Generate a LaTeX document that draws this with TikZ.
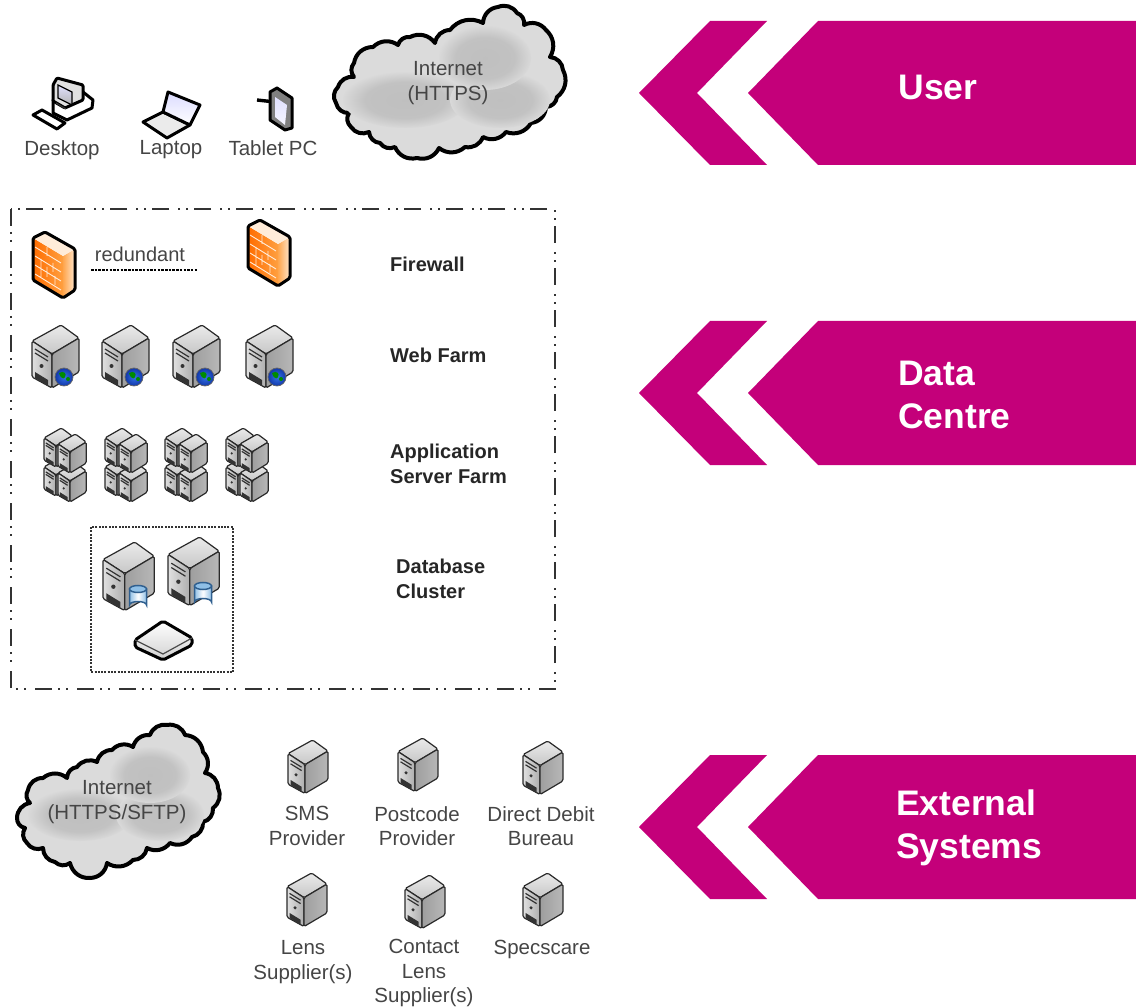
\documentclass[tikz,border=0pt]{standalone}
\usepackage{fontspec}
\setmainfont{Liberation Sans}
\definecolor{mag}{HTML}{C4007A}
\definecolor{txt}{HTML}{454545}
\definecolor{edge}{HTML}{2A2A2A}
\definecolor{canedge}{HTML}{2F5F8F}
\definecolor{canfill}{HTML}{8FBFE6}
\definecolor{globeA}{HTML}{3472E8}
\definecolor{globeB}{HTML}{1238A8}
\pgfdeclareradialshading{blob}{\pgfpoint{0bp}{0bp}}{color(0bp)=(black!25); color(16bp)=(black!24); color(26bp)=(black!14); color(50bp)=(black!14)}
\tikzset{
  lbl/.style={text=txt,align=center,inner sep=0pt,font=\fontsize{20.5}{24.5}\selectfont},
  hdr/.style={text=black!85,align=left,inner sep=0pt,anchor=west,font=\bfseries\fontsize{20}{25}\selectfont},
  big/.style={text=white,align=left,inner sep=0pt,anchor=west,font=\bfseries\fontsize{35.5}{43}\selectfont},
  boxline/.style={draw=edge,line width=1.2pt,rounded corners=1.5pt,line join=round},
  icon/.style={draw=black,line width=3pt,line join=round},
  cloudline/.style={draw=black,line width=4pt,line join=round,fill=black!14},
}
\newcommand\srvicon[3]{%
\begin{scope}[shift={(#1,#2)},#3]
 \shade[boxline,top color=black!8,bottom color=black!22] (0,16)--(29,0)--(47,13)--(20,29)--cycle;
 \shade[boxline,left color=black!12,right color=black!32] (0,16)--(20,29)--(20,63)--(0,52)--cycle;
 \shade[boxline,left color=black!38,right color=black!28] (20,29)--(47,13)--(47,47)--(20,63)--cycle;
 \draw[black!80,line width=1.2pt] (3,24)--(16,32) (3,28)--(16,36);
 \fill[black!80] (9.5,41) circle (2);
 \fill[black!80] (3,47)--(16,55)--(16,61)--(3,53)--cycle;
\end{scope}}
\newcommand\globeicon[2]{%
 \shade[draw=black!60,line width=.7pt,inner color=globeA,outer color=globeB] (#1,#2) circle (9);
 \fill[green!55!black] (#1-5,#2-4) .. controls (#1,#2-7) and (#1+3,#2-3) .. (#1+1,#2) .. controls (#1,#2+3) and (#1-4,#2+1) .. cycle;
 \fill[green!55!black] (#1+4,#2+2) circle (2);}
\newcommand\canicon[2]{%
 \shade[draw=canedge,line width=1.5pt,left color=canfill,right color=canfill,middle color=white] (#1-8.5,#2-8) -- (#1-8.5,#2+8) arc[x radius=8.5,y radius=3.5,start angle=180,end angle=360] -- (#1+8.5,#2-8) -- cycle;
 \draw[draw=canedge,line width=1.5pt,fill=canfill] (#1,#2-8) ellipse[x radius=8.5,y radius=3.5];}
\newcommand\fwicon[2]{%
\begin{scope}[shift={(#1,#2)}]
 \shade[left color=orange!85!red,right color=orange!75] (0,6)--(30,24)--(30,66)--(0,48)--cycle;
 \shade[left color=orange!70,right color=orange!20!white] (30,24)--(42,17)--(42,58)--(30,66)--cycle;
 \fill[orange!15!white] (0,6)--(12,0)--(42,17)--(30,24)--cycle;
 \draw[orange!15!white,line width=.9pt]
  (2,15)--(28,31) (2,24)--(28,40) (2,33)--(28,49) (2,42)--(28,58)
  (14,15)--(14,24) (8,27)--(8,36) (20,31)--(20,40) (14,35)--(14,45) (22,44)--(22,53) (8,37)--(8,45);
 \draw[icon,rounded corners=1.5pt] (0,6)--(12,0)--(42,17)--(42,58)--(30,66)--(0,48)--cycle;
\end{scope}}
\newcommand\stackicon[2]{%
 \srvicon{#1}{#2+29}{xscale=.6,yscale=.62}
 \srvicon{#1+14}{#2+35}{xscale=.6,yscale=.62}
 \srvicon{#1}{#2}{xscale=.6,yscale=.62}
 \srvicon{#1+14}{#2+6}{xscale=.6,yscale=.62}}
\newcommand\chevronicon[1]{%
 \fill[mag] (748,#1)--(818,#1-72)--(1136,#1-72)--(1136,#1+72)--(818,#1+72)--cycle;
 \fill[mag] (639,#1)--(710,#1-72)--(767,#1-72)--(697,#1)--(767,#1+72)--(710,#1+72)--cycle;}
\begin{document}
\begin{tikzpicture}[x=1pt,y=-1pt]
\useasboundingbox (0,0) rectangle (1136,1008);
% chevrons
\chevronicon{93}
\chevronicon{393}
\chevronicon{827}
\node[big,anchor=center] (user) at (938,87) {User};
\node[big] (dc) at (898,395) {Data\\Centre};
\node[big] (ext) at (896,828) {External\\Systems};
% client devices
\draw[icon,fill=white] (53,100)--(83,92)--(93,100)--(92,108)--(67,120)--(53,113)--cycle;
\draw[icon,fill=black!12,rounded corners=1pt] (53,85)--(57,78)--(83,85)--(83,100)--(65,108)--(53,101)--cycle;
\shade[draw=black,line width=1.2pt,top color=blue!12,bottom color=black!30] (58,85)--(72,92)--(72,105)--(58,98)--cycle;
\draw[black!80,line width=1.2pt] (56,103)--(66,109);
\draw[icon,fill=white] (33,115)--(42,110)--(65,123)--(57,129)--cycle;
\draw[icon,fill=black!8] (163,112)--(190,125)--(167,138)--(143,122)--cycle;
\shade[icon,top color=blue!14,bottom color=white] (168,92)--(200,105)--(190,125)--(163,112)--cycle;
\draw[icon,line width=3.4pt] (257,100)--(275,102);
\draw[icon,fill=black!50] (270,92)--(277,88)--(292,98)--(292,128)--(285,130)--(270,120)--cycle;
\shade[draw=none,top color=blue!12,bottom color=blue!4] (275,97)--(287,105)--(285,125)--(275,117)--cycle;
\node[lbl] (desktop) at (62,150) {Desktop};
\node[lbl] (laptop) at (171,150) {Laptop};
\node[lbl] (tablet) at (273,148) {Tablet PC};
% cloud 1
\path[cloudline] (338,87) to[bend left=40] (354,77) to[bend left=40] (354,63) to[bend left=40] (373,47) to[bend left=40] (398,45) to[bend left=40] (410,37) to[bend left=40] (435,43) to[bend left=40] (450,30) to[bend left=40] (483,23) to[bend left=40] (498,7) to[bend left=40] (517,13) to[bend left=40] (524,25) to[bend left=40] (546,30) to[bend left=40] (550,57) to[bend left=40] (563,70) to[bend left=40] (557,97) to[bend left=40] (546,107) to[bend left=40] (531,123) to[bend left=40] (506,132) to[bend left=40] (483,137) to[bend left=40] (465,147) to[bend left=40] (439,148) to[bend left=40] (417,158) to[bend left=40] (395,147) to[bend left=40] (380,143) to[bend left=40] (369,132) to[bend left=40] (351,127) to[bend left=40] (349,113) to[bend left=40] (336,103) to[bend left=40] cycle;
\shade[shading=blob] (405,100) ellipse[x radius=62,y radius=28];
\shade[shading=blob] (500,100) ellipse[x radius=50,y radius=28];
\shade[shading=blob] (485,58) ellipse[x radius=46,y radius=32];
\node[lbl] (inet1) at (448,83) {Internet\\(HTTPS)};
% data centre frame
\draw[draw=black!80,line width=1.5pt,dash pattern=on 17pt off 6pt on 2pt off 6pt on 2pt off 9pt] (11,209) rectangle (555,689);
\draw[draw=black!80,line width=1.2pt,dash pattern=on 2pt off 1.3pt] (91,527) rectangle (233,672);
% firewalls
\fwicon{33}{232}
\fwicon{248}{220}
\coordinate (redA) at (91,270);
\coordinate (redB) at (198,270);
\draw[line width=1.1pt,dash pattern=on 2.5pt off 1.2pt] (redA)--(redB);
\node[lbl,font=\fontsize{20}{24}\selectfont] (red) at (140,254) {redundant};
\node[hdr] (fw) at (390,264) {Firewall};
% web farm
\srvicon{32}{325}{scale=1}\globeicon{64}{377}
\srvicon{102}{325}{scale=1}\globeicon{134}{377}
\srvicon{173}{325}{scale=1}\globeicon{205}{377}
\srvicon{246}{325}{scale=1}\globeicon{277}{377}
\node[hdr] (web) at (390,355) {Web Farm};
% application farm
\stackicon{44}{428}
\stackicon{105}{428}
\stackicon{165}{428}
\stackicon{226}{428}
\node[hdr] (app) at (390,464) {Application\\Server Farm};
% database
\srvicon{103}{542}{scale=1.09}\canicon{138}{597}
\srvicon{168}{537}{scale=1.09}\canicon{203}{594}
\shade[icon,top color=white,bottom color=black!18,rounded corners=2pt] (135,640)--(163,621)--(192,638)--(192,645)--(163,660)--(135,647)--cycle;
\draw[black!70,line width=1.2pt] (135,640)--(163,654)--(192,638);
\node[hdr] (db) at (396,579) {Database\\Cluster};
% external
\path[cloudline] (17,818) to[bend left=40] (30,803) to[bend left=40] (28,790) to[bend left=40] (43,778) to[bend left=40] (67,778) to[bend left=40] (77,767) to[bend left=40] (97,762) to[bend left=40] (112,750) to[bend left=40] (133,747) to[bend left=40] (150,735) to[bend left=40] (167,725) to[bend left=40] (185,735) to[bend left=40] (203,752) to[bend left=40] (205,773) to[bend left=40] (218,788) to[bend left=40] (213,808) to[bend left=40] (203,822) to[bend left=40] (192,837) to[bend left=40] (170,843) to[bend left=40] (147,848) to[bend left=40] (133,860) to[bend left=40] (107,863) to[bend left=40] (90,878) to[bend left=40] (70,863) to[bend left=40] (55,862) to[bend left=40] (43,848) to[bend left=40] (27,843) to[bend left=40] (25,828) to[bend left=40] cycle;
\shade[shading=blob] (80,815) ellipse[x radius=52,y radius=26];
\shade[shading=blob] (160,815) ellipse[x radius=44,y radius=26];
\shade[shading=blob] (150,775) ellipse[x radius=40,y radius=28];
\node[lbl] (inet2) at (117,802) {Internet\\(HTTPS/SFTP)};
\srvicon{288}{740}{scale=.85}
\srvicon{398}{738}{scale=.85}
\srvicon{523}{741}{scale=.85}
\srvicon{287}{873}{scale=.85}
\srvicon{405}{875}{scale=.85}
\srvicon{523}{873}{scale=.85}
\node[lbl] (sms) at (307,826) {SMS\\Provider};
\node[lbl] (post) at (417,826) {Postcode\\Provider};
\node[lbl] (dd) at (541,826) {Direct Debit\\Bureau};
\node[lbl] (lens) at (303,962) {Lens\\Supplier(s)};
\node[lbl] (contact) at (424,973) {Contact\\Lens\\Supplier(s)};
\node[lbl] (spec) at (542,949) {Specscare};
\end{tikzpicture}
\end{document}
